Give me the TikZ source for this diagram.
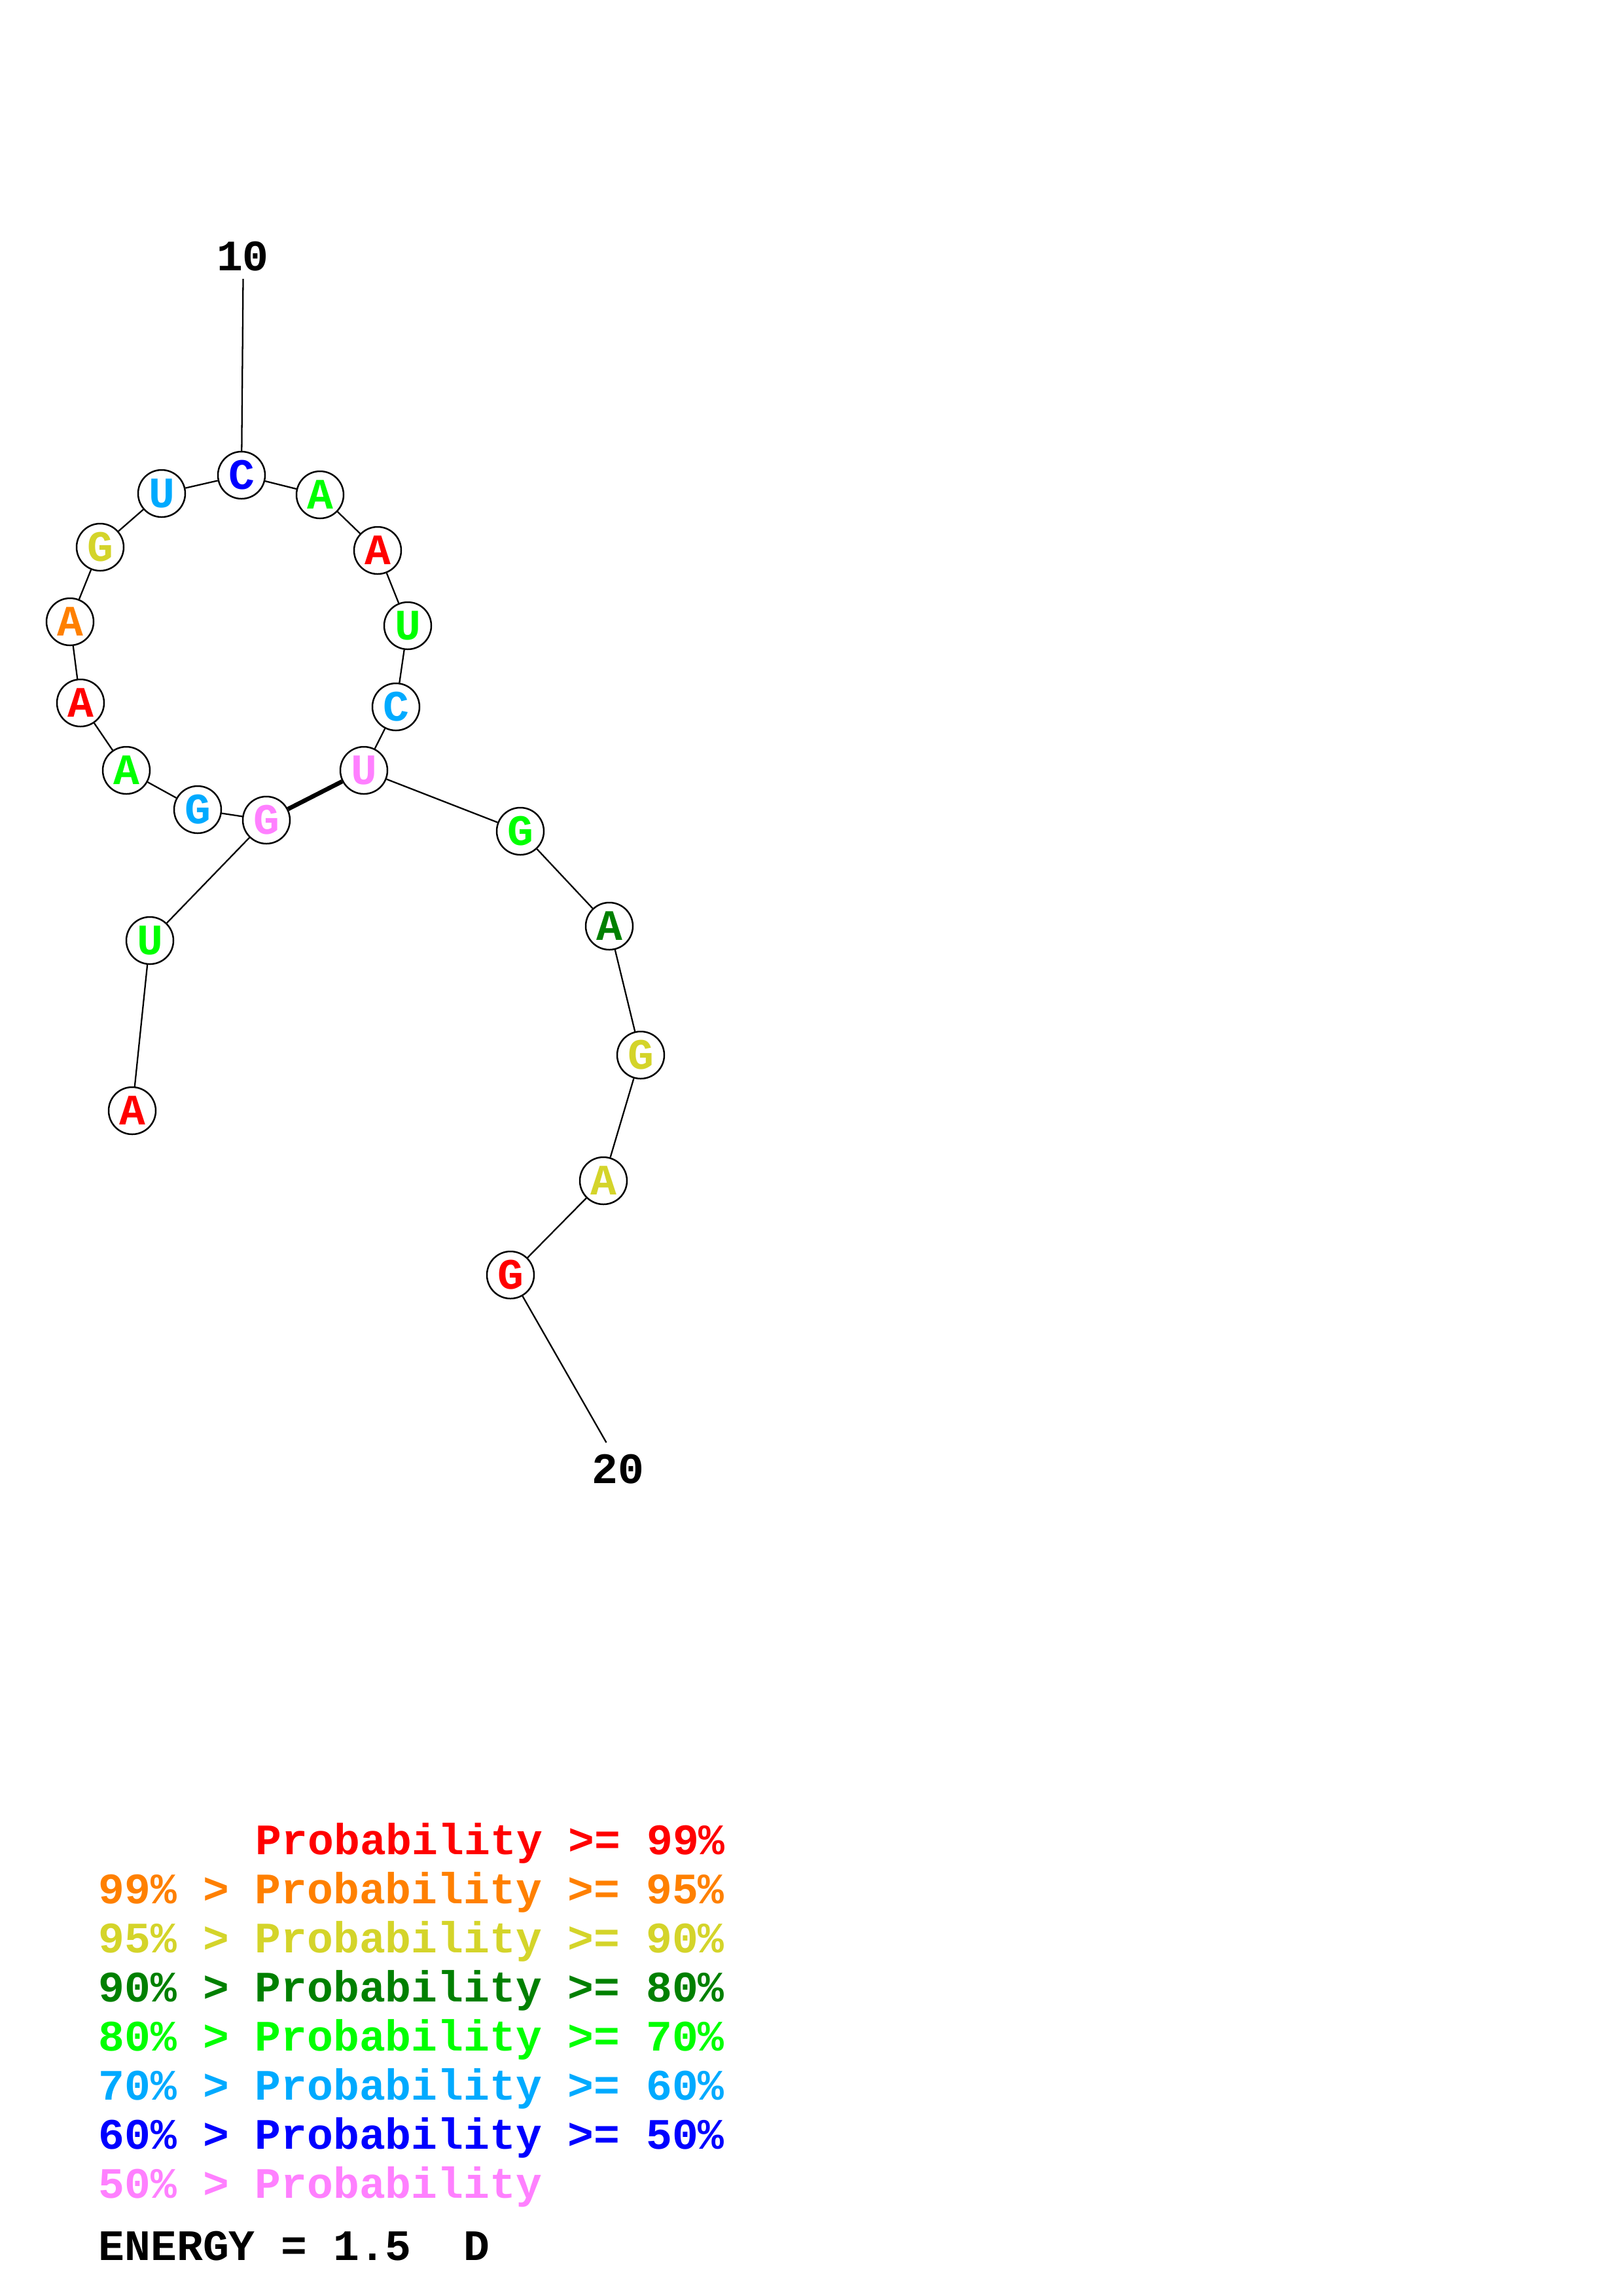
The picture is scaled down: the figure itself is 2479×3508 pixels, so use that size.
\documentclass[tikz,border=0pt]{standalone}
\usepackage{fontspec}
\setmonofont{Liberation Mono}
\usetikzlibrary{positioning}
\definecolor{pr99}{RGB}{255,0,0}
\definecolor{pr95}{RGB}{255,128,0}
\definecolor{pr90}{RGB}{212,212,42}
\definecolor{pr80}{RGB}{0,128,0}
\definecolor{pr70}{RGB}{0,255,0}
\definecolor{pr60}{RGB}{0,170,255}
\definecolor{pr50}{RGB}{0,0,255}
\definecolor{prlo}{RGB}{255,128,255}
\newcommand{\rnafont}{\ttfamily\bfseries\fontsize{16}{19}\selectfont}
\tikzset{
  base/.style={circle, draw=black, line width=0.6pt, fill=white, minimum size=6.1mm, inner sep=0pt, font=\rnafont},
  bb/.style={line width=0.55pt, black},
  pairline/.style={line width=1.6pt, black},
  lbl/.style={font=\rnafont, inner sep=0pt},
  leg/.style={font=\rnafont, inner sep=0pt, anchor=base west},
}
\begin{document}
\begin{tikzpicture}[x=0.084712mm, y=-0.084712mm]
\useasboundingbox (0,0) rectangle (2479,3508);
% bases
\node[base, text=pr99] (n1) at (202,1697) {A};
\node[base, text=pr70] (n2) at (229,1437) {U};
\node[base, text=prlo] (n3) at (407,1253) {G};
\node[base, text=pr60] (n4) at (302,1237) {G};
\node[base, text=pr70] (n5) at (193,1177) {A};
\node[base, text=pr99] (n6) at (123,1074) {A};
\node[base, text=pr95] (n7) at (107,950) {A};
\node[base, text=pr90] (n8) at (153,836) {G};
\node[base, text=pr60] (n9) at (247,754) {U};
\node[base, text=pr50] (n10) at (369,726) {C};
\node[base, text=pr70] (n11) at (489,756) {A};
\node[base, text=pr99] (n12) at (577,841) {A};
\node[base, text=pr70] (n13) at (623,956) {U};
\node[base, text=pr60] (n14) at (605,1080) {C};
\node[base, text=prlo] (n15) at (556,1177) {U};
\node[base, text=pr70] (n16) at (795,1270) {G};
\node[base, text=pr80] (n17) at (931,1415) {A};
\node[base, text=pr90] (n18) at (979,1612) {G};
\node[base, text=pr90] (n19) at (922,1804) {A};
\node[base, text=pr99] (n20) at (780,1948) {G};
% number labels
\coordinate (c10) at (371.5,426);
\coordinate (c20) at (926.5,2204);
\node[lbl] (l10) at (371,392) {10};
\node[lbl] (l20) at (944,2245) {20};
% backbone
\draw[bb] (n1) -- (n2);
\draw[bb] (n2) -- (n3);
\draw[bb] (n3) -- (n4);
\draw[bb] (n4) -- (n5);
\draw[bb] (n5) -- (n6);
\draw[bb] (n6) -- (n7);
\draw[bb] (n7) -- (n8);
\draw[bb] (n8) -- (n9);
\draw[bb] (n9) -- (n10);
\draw[bb] (n10) -- (n11);
\draw[bb] (n11) -- (n12);
\draw[bb] (n12) -- (n13);
\draw[bb] (n13) -- (n14);
\draw[bb] (n14) -- (n15);
\draw[bb] (n15) -- (n16);
\draw[bb] (n16) -- (n17);
\draw[bb] (n17) -- (n18);
\draw[bb] (n18) -- (n19);
\draw[bb] (n19) -- (n20);
\draw[pairline] (n3) -- (n15);
\draw[bb] (n10) -- (c10);
\draw[bb] (n20) -- (c20);
% legend
\node[leg, text=pr99] (g1) at (390,2833) {Probability >= 99\%};
\node[leg, text=pr95] (g2) at (150,2908) {99\% > Probability >= 95\%};
\node[leg, text=pr90] (g3) at (150,2983) {95\% > Probability >= 90\%};
\node[leg, text=pr80] (g4) at (150,3058) {90\% > Probability >= 80\%};
\node[leg, text=pr70] (g5) at (150,3133) {80\% > Probability >= 70\%};
\node[leg, text=pr60] (g6) at (150,3208) {70\% > Probability >= 60\%};
\node[leg, text=pr50] (g7) at (150,3283) {60\% > Probability >= 50\%};
\node[leg, text=prlo] (g8) at (150,3358) {50\% > Probability};
\node[leg, text=black] (en) at (150,3453) {ENERGY = 1.5\ \ D};
\end{tikzpicture}
\end{document}
